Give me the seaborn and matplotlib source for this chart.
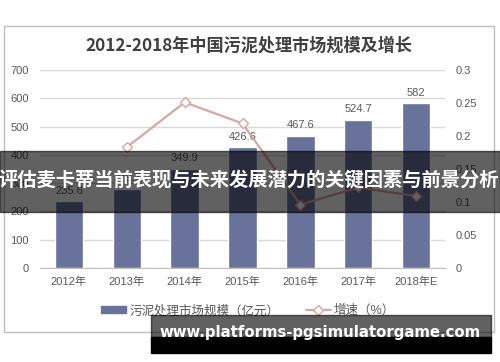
import matplotlib
matplotlib.use("Agg")
import matplotlib.pyplot as plt
from matplotlib.patches import Rectangle
from matplotlib.lines import Line2D
from matplotlib.ticker import FixedLocator, FuncFormatter
import seaborn as sns
import numpy as np
import pandas as pd

# datos
years = ["2012年", "2013年", "2014年", "2015年", "2016年", "2017年", "2018年E"]
market = [235.6, 279.7, 349.9, 426.6, 467.6, 524.7, 582]
growth_years = years[1:]
growth = [0.183, 0.251, 0.219, 0.096, 0.122, 0.109]

title = "2012-2018年中国污泥处理市场规模及增长"
bar_label = "污泥处理市场规模（亿元）"
line_label = "增速（%）"
band_text = "评估麦卡蒂当前表现与未来发展潜力的关键因素与前景分析"
watermark = "www.platforms-pgsimulatorgame.com"

sns.set_style("white")
plt.rcParams["font.family"] = ["Liberation Sans", "Noto Sans CJK SC", "DejaVu Sans"]

bar_color = "#68729b"
line_color = "#d9a6a3"
txt = "#595959"

W, H = 500, 362
fig = plt.figure(figsize=(W / 100, H / 100), dpi=100)

def fx(px):
    return px / W

def fy(py):
    return 1 - py / H

# marco del grafico
fig.patches.append(Rectangle((fx(4), fy(332)), fx(490), 306 / H, transform=fig.transFigure,
                             fill=False, edgecolor="#bfbfbf", linewidth=1))

ax = fig.add_axes([fx(40), fy(268), fx(405), 198 / H])
df = pd.DataFrame({"year": years, "value": market})
sns.barplot(data=df, x="year", y="value", color=bar_color, width=0.49, ax=ax,
            saturation=1, zorder=2)
ax.set_ylim(0, 700)
ax.set_yticks(np.arange(0, 701, 100))
ax.yaxis.grid(True, color="#d9d9d9", linewidth=1)
ax.set_axisbelow(True)
ax.set_xlabel("")
ax.set_ylabel("")
for s in ["top", "right", "left"]:
    ax.spines[s].set_visible(False)
ax.spines["bottom"].set_color("#bfbfbf")
ax.tick_params(axis="both", length=0, labelsize=8, colors=txt, pad=6)
ax.tick_params(axis="y", pad=8)
ax.xaxis.set_minor_locator(FixedLocator(np.arange(-0.5, len(years), 1)))
ax.tick_params(axis="x", which="minor", length=4, color="#bfbfbf")
ax.set_xlim(-0.5, len(years) - 0.5)
for c in ax.containers:
    ax.bar_label(c, labels=[f"{v:g}" for v in market], padding=4, fontsize=8, color=txt)

ax2 = ax.twinx()
sns.lineplot(x=growth_years, y=growth, ax=ax2, color=line_color, linewidth=1.6, sort=False,
             marker="D", markersize=5, markerfacecolor="white", markeredgecolor=line_color,
             markeredgewidth=1)
ax2.set_ylim(0, 0.3)
ax2.set_yticks(np.arange(0, 0.301, 0.05))
ax2.yaxis.set_major_formatter(FuncFormatter(lambda v, p: f"{round(v, 2):g}"))
ax2.tick_params(axis="y", length=0, labelsize=8, colors=txt, pad=8)
ax2.set_ylabel("")
for s in ["top", "right", "left", "bottom"]:
    ax2.spines[s].set_visible(False)
ax2.set_xlim(-0.5, len(years) - 0.5)

fig.text(fx(249), fy(46), title, ha="center", va="center", fontsize=12.3, fontweight="bold",
         color="#404040", family=["Noto Sans CJK SC", "DejaVu Sans"])

handles = [Rectangle((0, 0), 1, 1, color=bar_color),
           Line2D([0], [0], color=line_color, linewidth=1.6, marker="D", markersize=5,
                  markerfacecolor="white", markeredgecolor=line_color)]
fig.legend(handles, [bar_label, line_label], loc="center", bbox_to_anchor=(fx(248), fy(311)),
           ncol=2, frameon=False, fontsize=9, labelcolor=txt, handlelength=2.0,
           handleheight=0.5, columnspacing=2.1, handletextpad=0.25)

# franja oscura central
fig.patches.append(Rectangle((0, fy(212)), 1, 61 / H, transform=fig.transFigure,
                             color="black", alpha=0.62, zorder=10))
fig.text(fx(249), fy(181), band_text, ha="center", va="center", fontsize=13.9,
         fontweight="bold", color="white", zorder=11,
         family=["Noto Sans CJK SC", "DejaVu Sans"])

# marca de agua inferior
fig.patches.append(Rectangle((fx(151), fy(337)), fx(340), 22 / H, transform=fig.transFigure,
                             color="black", alpha=0.62, zorder=10))
fig.patches.append(Rectangle((fx(151), fy(353)), fx(340), 16 / H, transform=fig.transFigure,
                             color="black", zorder=10))
fig.text(fx(320), fy(333), watermark, ha="center", va="center", fontsize=10.7,
         fontweight="bold", color="white", zorder=11, family=["DejaVu Sans"])

fig.savefig("out.png", dpi=100)
